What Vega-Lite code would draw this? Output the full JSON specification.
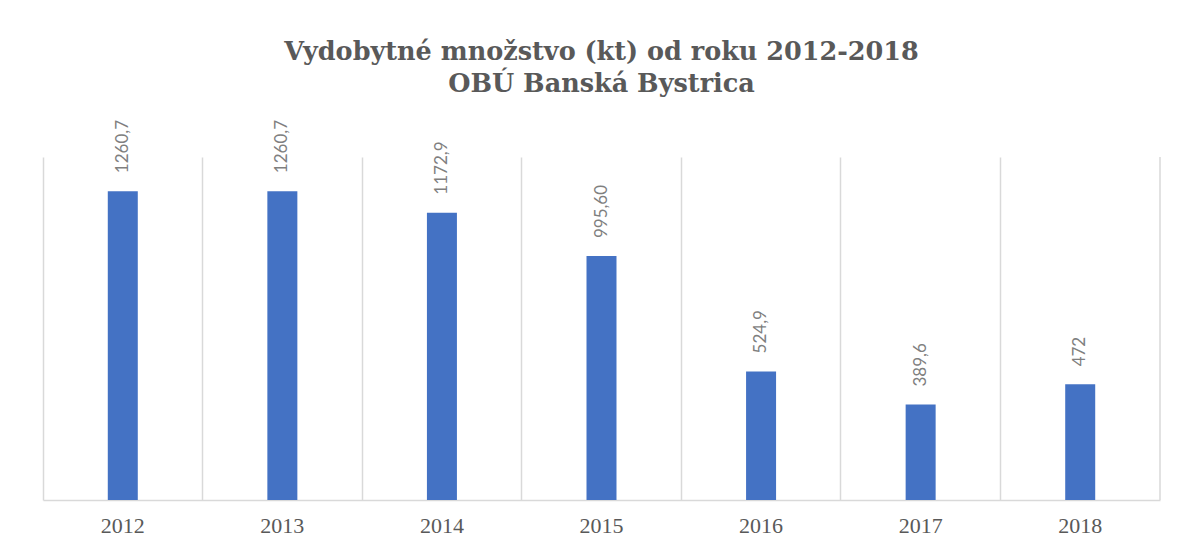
{
  "$schema": "https://vega.github.io/schema/vega-lite/v6.json",
  "width": 1117,
  "height": 343,
  "autosize": {"type": "none"},
  "padding": {"left": 43, "top": 157, "right": 28, "bottom": 48},
  "background": "white",
  "config": {"view": {"stroke": null}},
  "title": {
    "text": ["Vydobytné množstvo (kt) od roku 2012-2018", "OBÚ Banská Bystrica"],
    "font": "DejaVu Serif",
    "fontSize": 25.5,
    "fontWeight": "bold",
    "color": "#595959",
    "anchor": "middle",
    "baseline": "bottom",
    "lineHeight": 32,
    "offset": -3
  },
  "data": {
    "values": [
      {"year": "2012", "value": 1260.7, "label": "1260,7"},
      {"year": "2013", "value": 1260.7, "label": "1260,7"},
      {"year": "2014", "value": 1172.9, "label": "1172,9"},
      {"year": "2015", "value": 995.6, "label": "995,60"},
      {"year": "2016", "value": 524.9, "label": "524,9"},
      {"year": "2017", "value": 389.6, "label": "389,6"},
      {"year": "2018", "value": 472, "label": "472"}
    ]
  },
  "encoding": {
    "x": {
      "field": "year",
      "type": "nominal",
      "sort": null,
      "scale": {"paddingInner": 0, "paddingOuter": 0},
      "axis": {
        "title": null,
        "labelAngle": 0,
        "labelFont": "Liberation Serif",
        "labelFontSize": 22,
        "labelColor": "#595959",
        "labelPadding": 15,
        "ticks": false,
        "domainColor": "#D9D9D9",
        "domainWidth": 1.5,
        "grid": true,
        "gridColor": "#D9D9D9",
        "gridWidth": 1.5,
        "bandPosition": 0
      }
    }
  },
  "layer": [
    {
      "mark": {"type": "bar", "color": "#4472C4", "width": {"band": 0.188}},
      "encoding": {
        "y": {
          "field": "value",
          "type": "quantitative",
          "scale": {"domain": [0, 1400], "nice": false},
          "axis": null
        }
      }
    },
    {
      "mark": {
        "type": "text",
        "angle": 270,
        "align": "left",
        "baseline": "middle",
        "dx": 18,
        "font": "Lato",
        "fontSize": 17,
        "color": "#7F7F7F"
      },
      "encoding": {
        "y": {"field": "value", "type": "quantitative"},
        "text": {"field": "label"}
      }
    },
    {
      "transform": [{"filter": "datum.year === '2018'"}],
      "mark": {"type": "rule", "color": "#D9D9D9", "strokeWidth": 1.5},
      "encoding": {
        "x": {"field": "year", "type": "nominal", "sort": null, "bandPosition": 1},
        "y": {"datum": 0},
        "y2": {"datum": 1400}
      }
    }
  ]
}
